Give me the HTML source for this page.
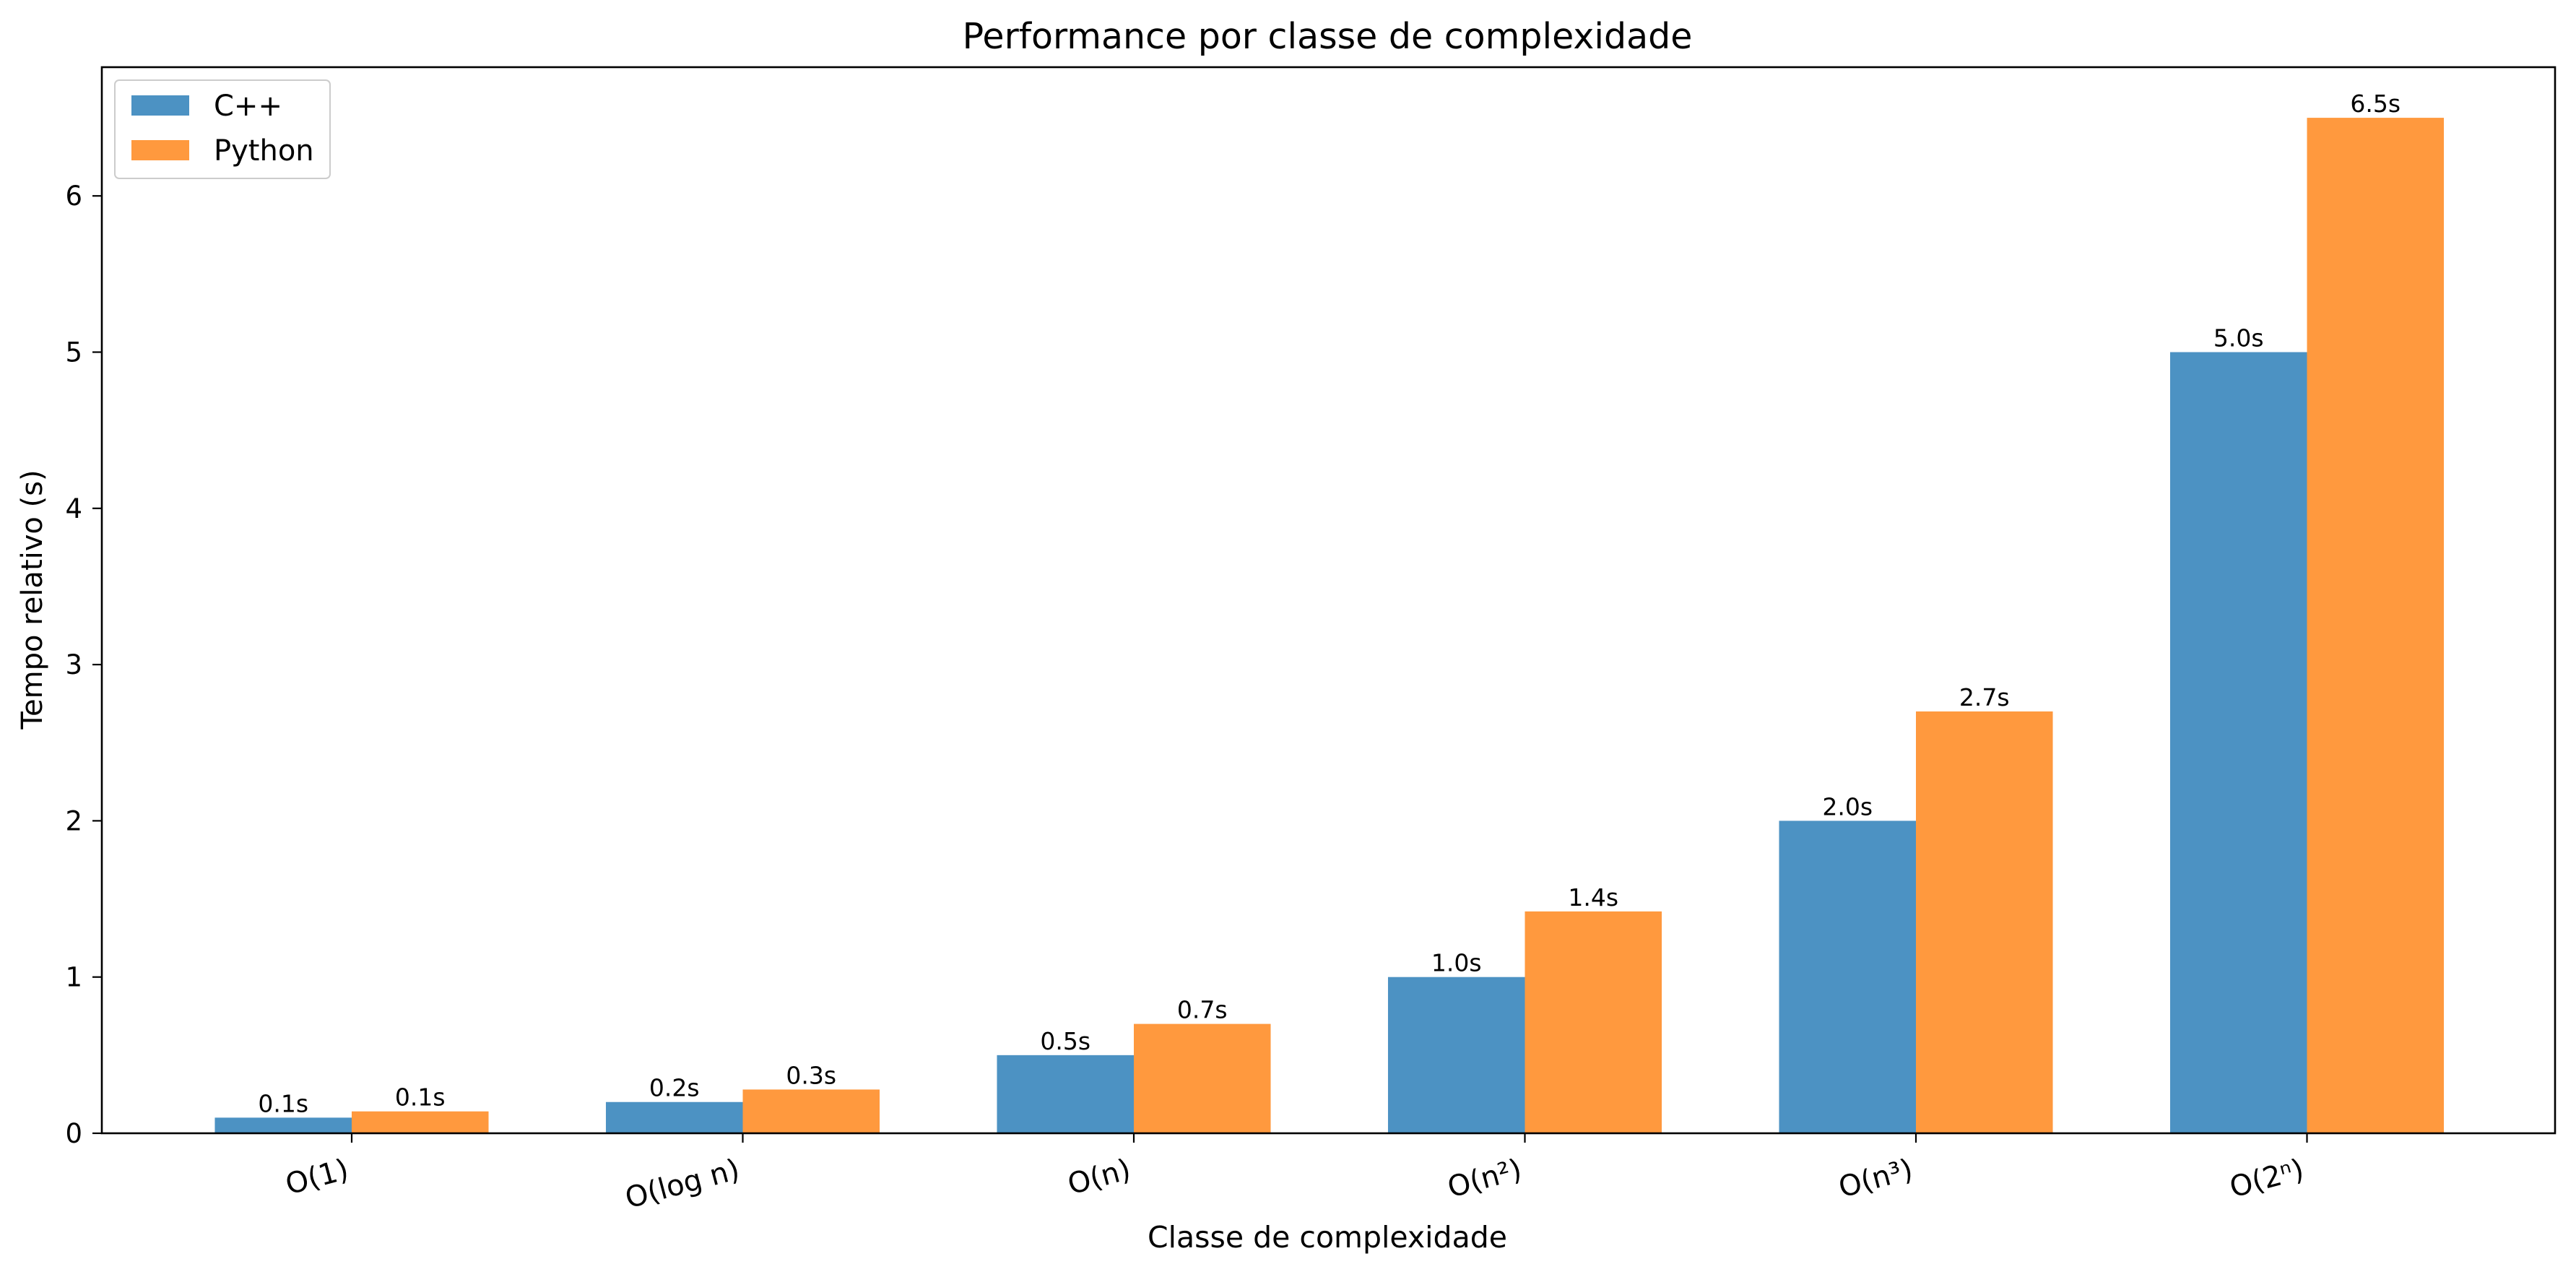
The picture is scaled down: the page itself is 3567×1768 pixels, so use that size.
<!DOCTYPE html>
<html><head><meta charset="utf-8">
<style>
html,body{margin:0;padding:0;background:#fff;}
svg{display:block;font-family:"DejaVu Sans","Liberation Sans",sans-serif;}
</style></head>
<body>
<svg id="chart" width="3567" height="1768" viewBox="0 0 3567 1768" xmlns="http://www.w3.org/2000/svg">
<rect width="3567" height="1768" fill="#fff"/>
<text x="1838" y="67" font-size="49" text-anchor="middle">Performance por classe de complexidade</text>
<text x="1838" y="1727" font-size="41" text-anchor="middle">Classe de complexidade</text>
<text transform="translate(58,830) rotate(-90)" font-size="40" text-anchor="middle">Tempo relativo (s)</text>
<g id="plot"></g>
</svg>
<script>
const categories = ["O(1)", "O(log n)", "O(n)", "O(n²)", "O(n³)", "O(2ⁿ)"];
const cppValues = [0.1, 0.2, 0.5, 1.0, 2.0, 5.0];
const pythonValues = [0.14, 0.28, 0.7, 1.42, 2.7, 6.5];
const yTicks = [0, 1, 2, 3, 4, 5, 6];
const seriesNames = ["C++", "Python"];

const L = 141, R = 3538, T = 93, B = 1569;
const x0 = 487, step = 541.5, barW = 0.35 * step;
const yMax = 6.824;
const xPos = i => x0 + i * step;
const yPos = v => B - (v / yMax) * (B - T);
const NS = "http://www.w3.org/2000/svg";
const g = document.getElementById("plot");
function mk(tag, attrs, parent) {
  const e = document.createElementNS(NS, tag);
  for (const k in attrs) e.setAttribute(k, attrs[k]);
  (parent || g).appendChild(e);
  return e;
}
const colors = ["#4c92c3", "#ff993e"];
const series = [cppValues, pythonValues];
series.forEach((vals, s) => {
  vals.forEach((v, i) => {
    const xl = xPos(i) + (s === 0 ? -barW : 0);
    const r = mk("rect", {x: xl, y: yPos(v), width: barW, height: B - yPos(v), fill: colors[s]});
    
    
    const t = mk("text", {x: xl + barW / 2, y: yPos(v) - 8, "font-size": 33, "text-anchor": "middle"});
    t.textContent = v.toFixed(1) + "s";
    
    
  });
});
const frame = mk("rect", {x: L, y: T, width: R - L, height: B - T, fill: "none", stroke: "#000", "stroke-width": 2.6});


yTicks.forEach(v => {
  const y = yPos(v);
  const ln = mk("line", {x1: L - 13, x2: L, y1: y, y2: y, stroke: "#000", "stroke-width": 2.2});
  
  
  const t = mk("text", {x: L - 27, y: y + 13, "font-size": 37, "text-anchor": "end"});
  t.textContent = String(v);
  
  
});
categories.forEach((c, i) => {
  const x = xPos(i);
  const ln = mk("line", {x1: x, x2: x, y1: B, y2: B + 13, stroke: "#000", "stroke-width": 2.2});
  
  
  const t = mk("text", {transform: "translate(" + (x - 2) + "," + (B + 62) + ") rotate(-15)", "font-size": 40, "text-anchor": "end"});
  t.textContent = c;
  
  
});
const lg = mk("g", {});


mk("rect", {x: 159, y: 111, width: 298, height: 136, rx: 6, fill: "#fff", "fill-opacity": 0.8, stroke: "#ccc", "stroke-width": 2}, lg);
seriesNames.forEach((n, s) => {
  const yy = 146 + s * 62;
  const p = mk("rect", {x: 182, y: yy - 14, width: 80, height: 28, fill: colors[s]}, lg);
  
  
  const t = mk("text", {x: 296, y: yy + 14, "font-size": 40}, lg);
  t.textContent = n;
  
  
});
</script>
</body></html>
